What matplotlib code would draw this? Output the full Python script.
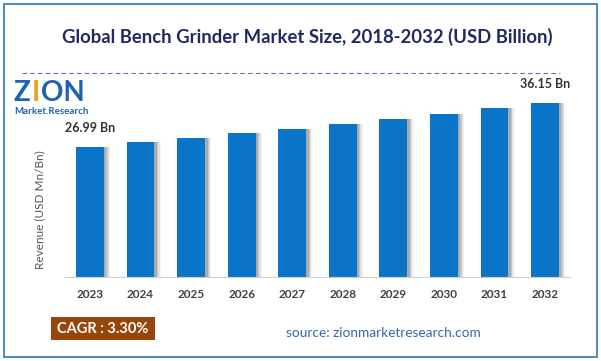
import matplotlib.pyplot as plt
from matplotlib.patches import Rectangle
from matplotlib.lines import Line2D

years = ["2023", "2024", "2025", "2026", "2027", "2028", "2029", "2030", "2031", "2032"]
revenue = [26.99, 27.88, 28.80, 29.75, 30.73, 31.75, 32.80, 33.88, 35.00, 36.15]
first_label = "26.99 Bn"
last_label = "36.15 Bn"
cagr_text = "CAGR : 3.30%"
source_text = "source: zionmarketresearch.com"

plt.rcParams['font.family'] = ['Lato', 'DejaVu Sans']

fig = plt.figure(figsize=(6.01, 3.61), dpi=100)
W, H = 601, 361

# outer blue frame
fig.patches.append(Rectangle((4 / W, 4 / H), 593 / W, 353 / H, transform=fig.transFigure,
                             fill=False, edgecolor="#2e74b5", linewidth=1.2))

fig.text(307 / W, 1 - 37 / H, "Global Bench Grinder Market Size, 2018-2032 (USD Billion)",
         ha="center", va="center", fontsize=13.3, fontweight="bold", color="#1f2a63")
fig.lines.append(Line2D([22 / W, 560 / W], [1 - 73 / H, 1 - 73 / H], transform=fig.transFigure,
                        color="#4a78c2", linewidth=0.8, linestyle=(0, (4, 3))))

# logo (text approximation), letters placed one after another
renderer = fig.canvas.get_renderer()
xpos = 14
for part, col in [("Z", "#1d63b0"), ("I", "#f0a020"), ("ON", "#1d63b0")]:
    t = fig.text(xpos / W, 1 - 101 / H, part, fontsize=20, fontweight="bold", color=col,
                 va="baseline")
    xpos += t.get_window_extent(renderer).width + 1
fig.text(14 / W, 1 - 114 / H, "Market.Research", fontsize=7, fontweight="bold", color="#1d63b0",
         va="baseline")

ax = fig.add_axes([64.7 / W, 1 - 277 / H, 505.6 / W, 193 / H])
x = list(range(len(years)))

# soft shadow on the right side of each bar
for k, a in enumerate([0.35, 0.25, 0.15, 0.08]):
    ax.bar([i + 0.05 + 0.025 * k for i in x], revenue, width=0.55, color="#7a7a7a",
           alpha=a, linewidth=0, zorder=1)
ax.bar(x, revenue, width=0.55, color="#0a75c8", linewidth=0, zorder=2)

ax.set_xlim(-0.5, 9.5)
ax.set_ylim(0, 40)
ax.set_xticks(x)
ax.set_xticklabels(years, fontsize=8.5, fontweight="bold", color="#404040")
ax.tick_params(axis="x", length=0, pad=9)
ax.set_yticks([])
for s in ["top", "right", "left"]:
    ax.spines[s].set_visible(False)
ax.spines["bottom"].set_color("#d0d0d0")

ax.annotate(first_label, (0, revenue[0]), xytext=(0, 9), textcoords="offset points",
            ha="center", va="bottom", fontsize=9, fontweight="bold", color="#333333")
ax.annotate(last_label, (9, revenue[-1]), xytext=(0, 9), textcoords="offset points",
            ha="center", va="bottom", fontsize=9, fontweight="bold", color="#333333")

fig.text(40 / W, 1 - 210 / H, "Revenue (USD Mn/Bn)", rotation=90, ha="center", va="center",
         fontsize=8.5, color="#555555")

# CAGR box and source
fig.patches.append(Rectangle((51 / W, 1 - 340 / H), 104 / W, 23 / H, transform=fig.transFigure,
                             facecolor="#96460a", edgecolor="none"))
fig.text(103 / W, 1 - 329 / H, cagr_text, ha="center", va="center", fontsize=10.5,
         fontweight="bold", color="white")
fig.text(383 / W, 1 - 333 / H, source_text, ha="center", va="center", fontsize=9.8,
         color="#2f6aa8")

fig.savefig("out.png", dpi=100)
